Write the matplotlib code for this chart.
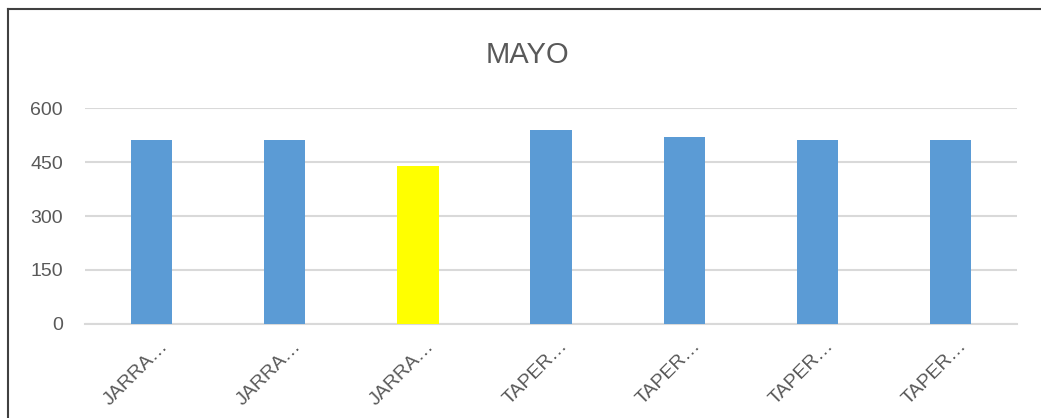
import matplotlib.pyplot as plt
import matplotlib.transforms as mtransforms
import numpy as np
from matplotlib.lines import Line2D

plt.rcParams['font.family'] = ['Liberation Sans', 'DejaVu Sans']

# data
labels = ['JARRA…', 'JARRA…', 'JARRA…', 'TAPER…', 'TAPER…', 'TAPER…', 'TAPER…']
values = [510, 510, 440, 540, 520, 510, 510]
colors = ['#5B9BD5', '#5B9BD5', '#FFFF00', '#5B9BD5', '#5B9BD5', '#5B9BD5', '#5B9BD5']
yticks = [0, 150, 300, 450, 600]

text_color = '#595959'
grid_color = '#d9d9d9'

fig = plt.figure(figsize=(10.41, 4.18), dpi=100)
ax = fig.add_axes([0.0817, 0.2249, 0.8953, 0.5167])

x = np.arange(len(labels))
ax.bar(x, values, width=0.31, color=colors, zorder=3)

ax.set_xlim(-0.5, len(labels) - 0.5)
ax.set_ylim(0, 600)
ax.set_yticks(yticks)
ax.set_yticklabels([str(v) for v in yticks], color=text_color, fontsize=14)
ax.set_xticks(x)
ax.set_xticklabels(labels, rotation=45, ha='right', va='center',
                   rotation_mode='anchor', color=text_color, fontsize=14)
ax.tick_params(axis='both', length=0)
ax.tick_params(axis='x', pad=14)
ax.tick_params(axis='y', pad=16)

# shift rotated labels right, like Excel does
shift = mtransforms.ScaledTranslation(14 / 100, 0, fig.dpi_scale_trans)
for lab in ax.get_xticklabels():
    lab.set_transform(lab.get_transform() + shift)

ax.grid(axis='y', color=grid_color, linewidth=1.5, zorder=0)
for side in ['top', 'right', 'left']:
    ax.spines[side].set_visible(False)
ax.spines['bottom'].set_color(grid_color)
ax.spines['bottom'].set_linewidth(1.5)

fig.text(0.507, 0.868, 'MAYO', ha='center', va='center', fontsize=21, color=text_color)

# chart border (only top and left edge are visible in the crop)
fig.add_artist(Line2D([8 / 1041, 8 / 1041], [0, 1 - 9 / 418], color='#404040', linewidth=1.5,
                      transform=fig.transFigure))
fig.add_artist(Line2D([8 / 1041, 1], [1 - 9 / 418, 1 - 9 / 418], color='#404040', linewidth=1.5,
                      transform=fig.transFigure))

fig.savefig('out.png', dpi=100)
